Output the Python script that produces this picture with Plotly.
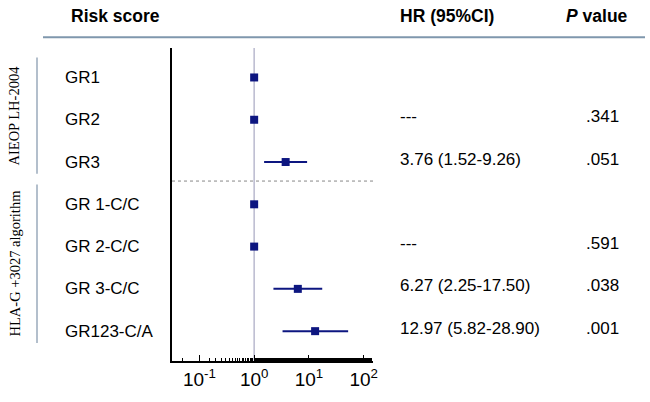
import plotly.graph_objects as go

# ---- data ----
row_labels = ["GR1", "GR2", "GR3", "GR 1-C/C", "GR 2-C/C", "GR 3-C/C", "GR123-C/A"]
hr = [1.0, 1.0, 3.76, 1.0, 1.0, 6.27, 12.97]
ci_low = [None, None, 1.52, None, None, 2.25, 3.3]
ci_high = [None, None, 9.26, None, None, 17.50, 52.0]
hr_text = ["", "---", "3.76 (1.52-9.26)", "", "---", "6.27 (2.25-17.50)", "12.97 (5.82-28.90)"]
p_text = ["", ".341", ".051", "", ".591", ".038", ".001"]
groups = ["AIEOP LH-2004", "HLA-G +3027 algorithm"]
group_rows = [(1, 3), (4, 7)]
tick_vals = [0.1, 1, 10, 100]
tick_text = ["10<sup>-1</sup>", "10<sup>0</sup>", "10<sup>1</sup>", "10<sup>2</sup>"]

rows = list(range(1, len(row_labels) + 1))

W, H = 650, 402
L, R, T, B = 172, 277, 48, 32
pw, ph = W - L - R, H - T - B


def px(x):
    return (x - L) / pw


def py(y):
    return (H - B - y) / ph


NAVY = "#0d1680"
FONT = "Arial, Liberation Sans, sans-serif"

fig = go.Figure()

for r, lo, hi in zip(rows, ci_low, ci_high):
    if lo is not None:
        fig.add_trace(go.Scatter(x=[lo, hi], y=[r, r], mode="lines",
                                 line=dict(color=NAVY, width=2), hoverinfo="skip",
                                 showlegend=False))

fig.add_trace(go.Scatter(x=hr, y=rows, mode="markers",
                         marker=dict(symbol="square", size=8, color=NAVY),
                         showlegend=False))

shapes = []
shapes.append(dict(type="line", xref="x", yref="paper", x0=1, x1=1, y0=0, y1=1,
                   line=dict(color="#b9b9cf", width=1.5), layer="below"))
shapes.append(dict(type="line", xref="paper", yref="y", x0=0, x1=px(376), y0=3.45, y1=3.45,
                   line=dict(color="#888888", width=1, dash="dot")))
shapes.append(dict(type="line", xref="paper", yref="paper", x0=px(43), x1=px(645),
                   y0=py(37), y1=py(37), line=dict(color="#7f97ad", width=2)))
for (a, b) in group_rows:
    shapes.append(dict(type="line", xref="paper", yref="y", x0=px(37), x1=px(37),
                       y0=a - 0.47, y1=b + 0.28, line=dict(color="#9aaabb", width=1.5)))

ann = []
ann.append(dict(text="<b>Risk score</b>", x=px(69), y=py(15), xref="paper", yref="paper",
                xanchor="left", yanchor="middle", showarrow=False,
                font=dict(size=17.5, color="black", family=FONT)))
ann.append(dict(text="<b>HR (95%CI)</b>", x=px(398), y=py(15), xref="paper", yref="paper",
                xanchor="left", yanchor="middle", showarrow=False,
                font=dict(size=17.5, color="black", family=FONT)))
ann.append(dict(text="<b><i>P</i> value</b>", x=px(630), y=py(15), xref="paper", yref="paper",
                xanchor="right", yanchor="middle", showarrow=False,
                font=dict(size=17.5, color="black", family=FONT)))

for r, lab, h, p in zip(rows, row_labels, hr_text, p_text):
    ann.append(dict(text=lab, x=px(63), y=r, xref="paper", yref="y", xanchor="left",
                    yanchor="middle", showarrow=False,
                    font=dict(size=17, color="black", family=FONT)))
    if h:
        ann.append(dict(text=h, x=px(398), y=r, yshift=3, xref="paper", yref="y",
                        xanchor="left", yanchor="middle", showarrow=False,
                        font=dict(size=17, color="black", family=FONT)))
    if p:
        ann.append(dict(text=p, x=px(621), y=r, yshift=3, xref="paper", yref="y",
                        xanchor="right", yanchor="middle", showarrow=False,
                        font=dict(size=17, color="black", family=FONT)))

for g, (a, b) in zip(groups, group_rows):
    ann.append(dict(text=g, x=px(14), y=(a + b) / 2 - 0.1, xref="paper", yref="y",
                    xanchor="center", yanchor="middle", textangle=-90, showarrow=False,
                    font=dict(size=14.5, color="black",
                              family="Times New Roman, Liberation Serif, serif")))

fig.update_layout(
    width=W, height=H,
    margin=dict(l=L, r=R, t=T, b=B, pad=0),
    paper_bgcolor="white", plot_bgcolor="white",
    shapes=shapes, annotations=ann,
    xaxis=dict(type="log", range=[-1.5, 2.17], tickmode="array",
               tickvals=tick_vals, ticktext=tick_text,
               ticks="inside", ticklen=6, tickcolor="black", tickwidth=1,
               showline=True, linecolor="black", linewidth=1.5, showgrid=False,
               zeroline=False, tickfont=dict(size=19, color="black", family=FONT),
               minor=dict(ticks="inside", ticklen=3, tickcolor="black", showgrid=False)),
    yaxis=dict(range=[7.706, 0.303], showline=True, linecolor="black", linewidth=1.5,
               showticklabels=False, ticks="", showgrid=False, zeroline=False),
)

fig.write_html("out.html", config={"displayModeBar": False},
               post_script="document.body.style.margin='0';document.body.style.overflow='hidden';document.documentElement.style.overflow='hidden';")
